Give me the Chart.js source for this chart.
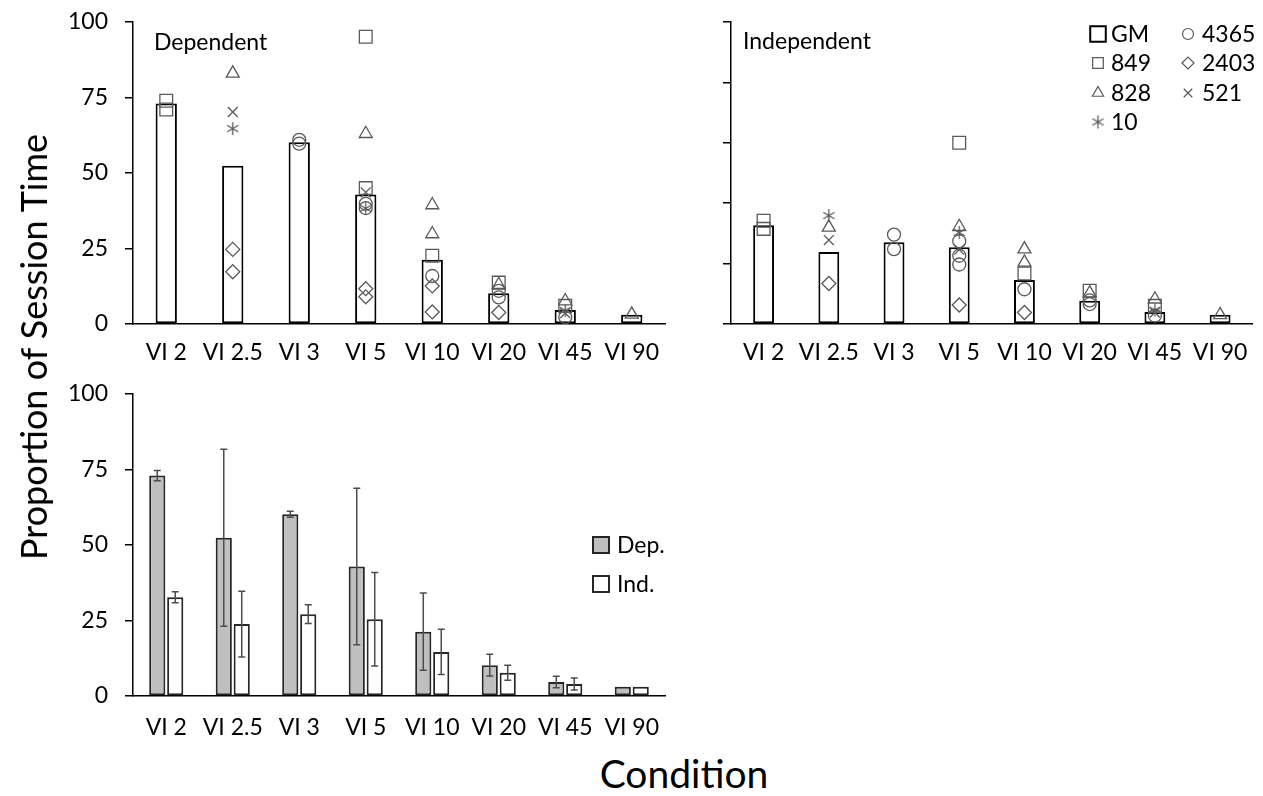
<!DOCTYPE html>
<html>
<head>
<meta charset="utf-8">
<title>Session Time</title>
<script src="https://cdn.jsdelivr.net/npm/chart.js@4.4.1/dist/chart.umd.min.js"></script>
<style>
  body { margin: 0; background: #fff; width: 1263px; height: 796px; position: relative; overflow: hidden; font-family: Lato, sans-serif; color: #000; }
  canvas { position: absolute; }
  .axis-title { position: absolute; white-space: nowrap; }
  #yTitle { left: 33px; top: 347px; font-size: 36px; transform: translate(-50%, -50%) rotate(-90deg); }
  #xTitle { left: 684px; top: 773px; font-size: 39px; transform: translate(-50%, -50%); }
</style>
</head>
<body>
<canvas id="depChart" width="680" height="371" style="left:0;top:0"></canvas>
<canvas id="indChart" width="573" height="371" style="left:690px;top:0"></canvas>
<canvas id="bothChart" width="680" height="371" style="left:0;top:372px"></canvas>
<div class="axis-title" id="yTitle">Proportion of Session Time</div>
<div class="axis-title" id="xTitle">Condition</div>
<script>
// conditions and group means (proportion of session time, %)
const conditions = ['VI 2', 'VI 2.5', 'VI 3', 'VI 5', 'VI 10', 'VI 20', 'VI 45', 'VI 90'];
const depMeans = [73.0, 52.4, 60.2, 42.9, 21.3, 10.2, 4.6, 3.1];
const indMeans = [32.7, 23.8, 27.1, 25.4, 14.6, 7.7, 4.0, 3.1];
const depErr = [1.7, 29.3, 1.0, 25.9, 12.8, 3.6, 1.9, 0];
const indErr = [1.8, 10.9, 3.1, 15.5, 7.5, 2.5, 2.0, 0];

// individual subjects, dependent condition
const dep849 = [['VI 2', 73.9], ['VI 2', 71.0], ['VI 5', 95.1], ['VI 5', 45.0], ['VI 10', 22.6], ['VI 20', 13.7], ['VI 45', 6.0]];
const dep828 = [['VI 2.5', 83.0], ['VI 5', 63.0], ['VI 10', 39.4], ['VI 10', 29.8], ['VI 20', 13.0], ['VI 45', 7.6], ['VI 90', 3.2]];
const dep10 = [['VI 2.5', 64.7], ['VI 5', 38.3], ['VI 45', 4.5]];
const dep521 = [['VI 2.5', 70.2], ['VI 5', 43.6], ['VI 45', 3.6]];
const dep4365 = [['VI 3', 61.0], ['VI 3', 59.7], ['VI 5', 39.8], ['VI 5', 38.4], ['VI 10', 15.9], ['VI 20', 11.0], ['VI 20', 8.8], ['VI 45', 2.3]];
const dep2403 = [['VI 2.5', 24.7], ['VI 2.5', 17.3], ['VI 5', 11.7], ['VI 5', 9.0], ['VI 10', 12.6], ['VI 10', 4.0], ['VI 20', 3.8]];

// individual subjects, independent condition
const ind849 = [['VI 2', 34.2], ['VI 2', 31.5], ['VI 5', 60.0], ['VI 10', 16.7], ['VI 20', 11.0], ['VI 45', 6.0]];
const ind828 = [['VI 2.5', 32.0], ['VI 5', 32.2], ['VI 10', 24.8], ['VI 10', 20.4], ['VI 20', 10.2], ['VI 45', 8.2], ['VI 90', 3.0]];
const ind10 = [['VI 2.5', 35.9], ['VI 5', 30.3], ['VI 45', 4.6]];
const ind521 = [['VI 2.5', 27.8], ['VI 5', 24.6], ['VI 45', 3.8]];
const ind4365 = [['VI 3', 29.6], ['VI 3', 24.8], ['VI 5', 27.4], ['VI 5', 22.6], ['VI 5', 19.7], ['VI 10', 11.5], ['VI 20', 7.8], ['VI 20', 6.6], ['VI 45', 2.8]];
const ind2403 = [['VI 2.5', 13.4], ['VI 5', 6.3], ['VI 10', 3.8]];

const subjectNames = ['849', '828', '10', '521', '4365', '2403'];

const markerGrey = '#595959';

// six-spoke asterisk, chart.js 'star' has eight
function asteriskImage(size) {
  const c = document.createElement('canvas');
  c.width = size;
  c.height = size;
  const g = c.getContext('2d');
  const r = size / 2 - 1;
  g.strokeStyle = markerGrey;
  g.lineWidth = 1.3;
  g.beginPath();
  [90, 30, 150].forEach((deg) => {
    const a = (deg * Math.PI) / 180;
    g.moveTo(size / 2 - r * Math.cos(a), size / 2 - r * Math.sin(a));
    g.lineTo(size / 2 + r * Math.cos(a), size / 2 + r * Math.sin(a));
  });
  g.stroke();
  return c;
}
const asterisk = asteriskImage(15);

const markers = {
  849: { pointStyle: 'rect', radius: 9 },
  828: { pointStyle: 'triangle', radius: 7.5 },
  10: { pointStyle: asterisk, radius: 7 },
  521: { pointStyle: 'crossRot', radius: 7 },
  4365: { pointStyle: 'circle', radius: 6.5 },
  2403: { pointStyle: 'rectRot', radius: 7 },
};

Chart.defaults.font.family = 'Lato, sans-serif';
Chart.defaults.font.size = 23;
Chart.defaults.color = '#000';
Chart.defaults.animation = false;

const subjectDataset = (name, points) => ({
  type: 'line',
  label: name,
  data: points.map(([x, y]) => ({ x, y })),
  showLine: false,
  order: 0,
  pointStyle: markers[name].pointStyle,
  pointRadius: markers[name].radius,
  pointHoverRadius: markers[name].radius,
  pointBorderColor: markerGrey,
  pointBackgroundColor: 'rgba(0,0,0,0)',
  pointBorderWidth: 1.3,
});

const makeScales = (yWidth, yStep, showLabels, xPad) => ({
  x: {
    grid: { display: false, drawTicks: false },
    border: { color: '#000', width: 1.5 },
    ticks: { padding: xPad, maxRotation: 0, autoSkip: false },
    afterFit: (scale) => {
      scale.height = 47;
      scale.paddingLeft = 0;
      scale.paddingRight = 0;
    },
  },
  y: {
    min: 0,
    max: 100,
    grid: { drawOnChartArea: false, color: '#000', lineWidth: 1.5, tickLength: 8 },
    border: { color: '#000', width: 1.5 },
    ticks: {
      stepSize: yStep,
      padding: 17,
      callback: (v) => (showLabels ? v : ''),
    },
    afterFit: (scale) => {
      scale.width = yWidth;
      scale.paddingTop = 0;
      scale.paddingBottom = 0;
    },
  },
});

// panel title and marker legend drawn on the canvas
const panelText = {
  id: 'panelText',
  afterDraw(chart, args, opts) {
    const { ctx } = chart;
    ctx.save();
    ctx.fillStyle = '#000';
    ctx.textBaseline = 'middle';
    ctx.font = '23px Lato, sans-serif';
    if (opts.title) ctx.fillText(opts.title.text, opts.title.x, opts.title.y);
    (opts.items || []).forEach((item) => {
      if (item.box) {
        ctx.fillStyle = item.box;
        ctx.strokeStyle = '#262626';
        ctx.lineWidth = 2;
        ctx.fillRect(item.x - 8, item.y - 8, 16, 16);
        ctx.strokeRect(item.x - 8, item.y - 8, 16, 16);
      } else {
        ctx.strokeStyle = item.color;
        ctx.fillStyle = 'rgba(0,0,0,0)';
        ctx.lineWidth = item.width;
        Chart.helpers.drawPoint(ctx, {
          pointStyle: item.style, radius: item.radius, rotation: 0, borderWidth: item.width,
        }, item.x, item.y);
      }
      ctx.fillStyle = '#000';
      ctx.font = '23px Lato, sans-serif';
      ctx.fillText(item.text, item.x + item.gap, item.y + 1);
    });
    ctx.restore();
  },
};

// error bars for the bottom panel
const errorBars = {
  id: 'errorBars',
  afterDatasetsDraw(chart, args, opts) {
    const { ctx } = chart;
    const yScale = chart.scales.y;
    ctx.save();
    ctx.strokeStyle = '#4d4d4d';
    ctx.lineWidth = 1.5;
    opts.errors.forEach((errs, di) => {
      const meta = chart.getDatasetMeta(di);
      meta.data.forEach((bar, i) => {
        const v = chart.data.datasets[di].data[i];
        const e = errs[i];
        if (!e) return;
        const top = yScale.getPixelForValue(v + e);
        const bot = yScale.getPixelForValue(v - e);
        ctx.beginPath();
        ctx.moveTo(bar.x, top); ctx.lineTo(bar.x, bot);
        ctx.moveTo(bar.x - 3.5, top); ctx.lineTo(bar.x + 3.5, top);
        ctx.moveTo(bar.x - 3.5, bot); ctx.lineTo(bar.x + 3.5, bot);
        ctx.stroke();
      });
    });
    ctx.restore();
  },
};

const meanBars = (values) => ({
  type: 'bar',
  data: values,
  order: 1,
  backgroundColor: '#fff',
  borderColor: '#000',
  borderWidth: 2,
  borderSkipped: false,
  barPercentage: 0.32,
  categoryPercentage: 1,
});

const depSubjects = [dep849, dep828, dep10, dep521, dep4365, dep2403];
const indSubjects = [ind849, ind828, ind10, ind521, ind4365, ind2403];

new Chart(document.getElementById('depChart'), {
  type: 'bar',
  data: {
    labels: conditions,
    datasets: [meanBars(depMeans), ...subjectNames.map((n, i) => subjectDataset(n, depSubjects[i]))],
  },
  options: {
    responsive: false,
    layout: { padding: { top: 22, right: 15, left: 0, bottom: 0 } },
    scales: makeScales(133, 25, true, 15),
    plugins: {
      legend: { display: false },
      tooltip: { enabled: false },
      panelText: { title: { text: 'Dependent', x: 154, y: 43 } },
    },
  },
  plugins: [panelText],
});

const legendRows = [34, 63, 93, 122];
new Chart(document.getElementById('indChart'), {
  type: 'bar',
  data: {
    labels: conditions,
    datasets: [meanBars(indMeans), ...subjectNames.map((n, i) => subjectDataset(n, indSubjects[i]))],
  },
  options: {
    responsive: false,
    layout: { padding: { top: 22, right: 1, left: 0, bottom: 0 } },
    scales: makeScales(41, 20, false, 15),
    plugins: {
      legend: { display: false },
      tooltip: { enabled: false },
      panelText: {
        title: { text: 'Independent', x: 53, y: 42 },
        items: [
          { text: 'GM', style: 'rect', radius: 11, color: '#000', width: 2, x: 408, y: legendRows[0], gap: 13 },
          { text: '849', style: 'rect', radius: 7.5, color: markerGrey, width: 1.2, x: 408, y: legendRows[1], gap: 13 },
          { text: '828', style: 'triangle', radius: 6.5, color: markerGrey, width: 1.2, x: 408, y: legendRows[2], gap: 13 },
          { text: '10', style: asterisk, radius: 7, color: markerGrey, width: 1.2, x: 408, y: legendRows[3], gap: 13 },
          { text: '4365', style: 'circle', radius: 5.5, color: markerGrey, width: 1.2, x: 498, y: legendRows[0], gap: 14 },
          { text: '2403', style: 'rectRot', radius: 6, color: markerGrey, width: 1.2, x: 498, y: legendRows[1], gap: 14 },
          { text: '521', style: 'crossRot', radius: 6, color: markerGrey, width: 1.2, x: 498, y: legendRows[2], gap: 14 },
        ],
      },
    },
  },
  plugins: [panelText],
});

new Chart(document.getElementById('bothChart'), {
  type: 'bar',
  data: {
    labels: conditions,
    datasets: [
      { label: 'Dep.', data: depMeans, backgroundColor: '#bfbfbf', borderColor: '#262626', borderWidth: 2, borderSkipped: false, barPercentage: 0.9, categoryPercentage: 0.54 },
      { label: 'Ind.', data: indMeans, backgroundColor: '#fff', borderColor: '#262626', borderWidth: 2, borderSkipped: false, barPercentage: 0.9, categoryPercentage: 0.54 },
    ],
  },
  options: {
    responsive: false,
    layout: { padding: { top: 22, right: 15, left: 0, bottom: 0 } },
    scales: makeScales(133, 25, true, 18),
    plugins: {
      legend: { display: false },
      tooltip: { enabled: false },
      errorBars: { errors: [depErr, indErr] },
      panelText: {
        items: [
          { text: 'Dep.', box: '#bfbfbf', x: 601, y: 173, gap: 16 },
          { text: 'Ind.', box: '#fff', x: 601, y: 212, gap: 16 },
        ],
      },
    },
  },
  plugins: [errorBars, panelText],
});
</script>
</body>
</html>
